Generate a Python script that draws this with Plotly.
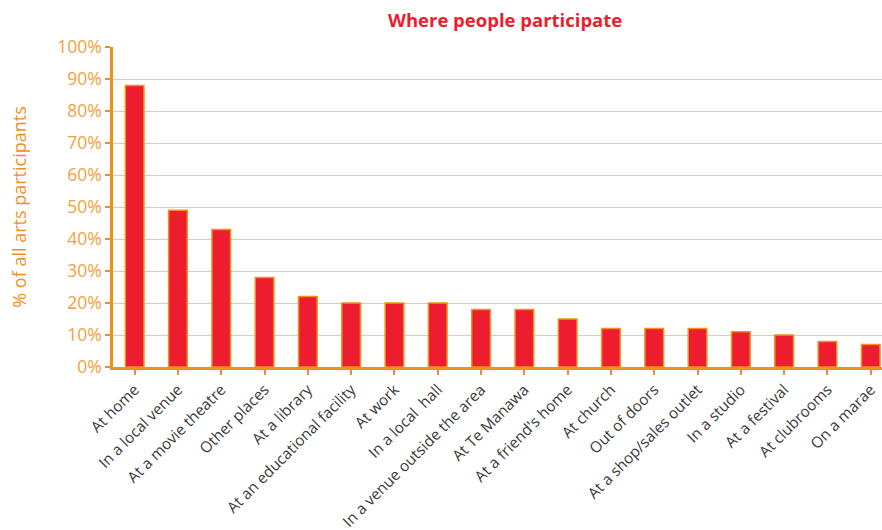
import plotly.graph_objects as go

categories = ["At home", "In a local venue", "At a movie theatre", "Other places", "At a library",
              "At an educational facility", "At work", "In a local  hall", "In a venue outside the area",
              "At Te Manawa", "At a friend's home", "At church", "Out of doors", "At a shop/sales outlet",
              "In a studio", "At a festival", "At clubrooms", "On a marae"]
values = [88, 49, 43, 28, 22, 20, 20, 20, 18, 18, 15, 12, 12, 12, 11, 10, 8, 7]
y_ticks = list(range(0, 101, 10))
y_tick_labels = [f"{v}%" for v in y_ticks]

fig = go.Figure()
fig.add_trace(go.Bar(
    x=list(range(len(categories))), y=values,
    marker=dict(color="#ED1C2E", line=dict(color="#F0901E", width=1.5)),
    width=0.43,
))

fig.update_layout(
    width=882, height=530,
    margin=dict(l=113, r=0, t=47, b=163),
    plot_bgcolor="white", paper_bgcolor="white",
    showlegend=False,
    font=dict(family="Open Sans, DejaVu Sans, sans-serif"),
    xaxis=dict(
        range=[-0.5, 17.26], automargin=False,
        tickmode="array", tickvals=list(range(len(categories))), ticktext=categories,
        tickangle=-45, tickson="boundaries",
        ticks="outside", ticklen=5, tickcolor="#F0901E", tickwidth=1.5,
        showline=True, linecolor="#F0901E", linewidth=2.5,
        showgrid=False,
        tickfont=dict(size=15.3, color="#3a3a3a"),
    ),
    yaxis=dict(
        range=[0, 100], automargin=False,
        tickmode="array", tickvals=y_ticks, ticktext=y_tick_labels,
        ticks="outside", ticklen=5, tickcolor="#F0901E", tickwidth=1.5,
        showline=True, linecolor="#F0901E", linewidth=2.5,
        gridcolor="#F8C58C", gridwidth=1.2,
        zeroline=False,
        tickfont=dict(size=17.5, color="#F4A040"),
        title=dict(text="% of all arts participants", font=dict(size=18, color="#F0901E"), standoff=26),
    ),
    annotations=[dict(
        text="<b>Where people participate</b>", xref="paper", yref="paper",
        x=0.51, y=1, yshift=28, xanchor="center", yanchor="middle", showarrow=False,
        font=dict(size=18.5, color="#ED1C2E"),
    )],
)

fig.write_html("out.html")
